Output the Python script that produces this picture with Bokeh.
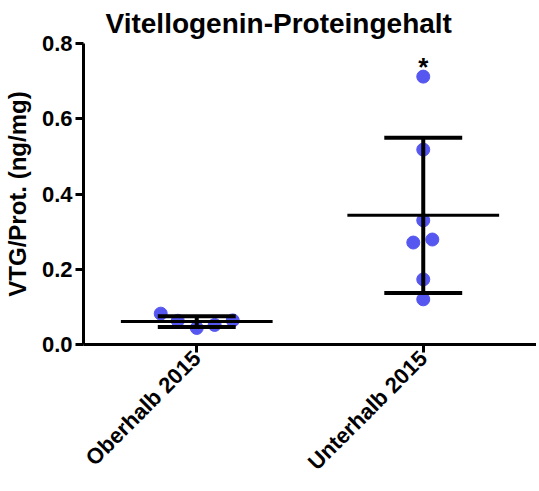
import numpy as np
from bokeh.plotting import figure
from bokeh.models import FixedTicker, Range1d
from bokeh.embed import file_html
from bokeh.resources import INLINE
from bokeh.core.properties import value

# ---- data ----
groups = ["Oberhalb 2015", "Unterhalb 2015"]
oberhalb = [0.082, 0.063, 0.044, 0.052, 0.064]
oberhalb_jitter = [-0.159, -0.084, 0.0, 0.079, 0.159]
unterhalb = [0.712, 0.518, 0.330, 0.271, 0.279, 0.173, 0.120]
unterhalb_jitter = [0.0, 0.0, 0.0, -0.044, 0.040, 0.0, 0.0]
significance = ["", "*"]
y_ticks = [0.0, 0.2, 0.4, 0.6, 0.8]
y_tick_labels = ["0.0", "0.2", "0.4", "0.6", "0.8"]

FONT = "Liberation Sans"
DOT = "#5656F0"

p = figure(frame_width=453, frame_height=301, output_backend="svg", toolbar_location=None,
           x_range=Range1d(0.5, 2.5), y_range=Range1d(0, 0.8),
           min_border_left=82, min_border_right=0, min_border_top=43,
           min_border_bottom=139)
p.outline_line_color = None
p.grid.visible = False
p.background_fill_color = "white"
p.border_fill_color = "white"

p.title.text = "Vitellogenin-Proteingehalt"
p.title.text_font = FONT
p.title.text_font_style = "bold"
p.title.text_font_size = "28px"
p.title.align = "left"
p.title.offset = 22
p.title.text_color = "black"

all_sets = [oberhalb, unterhalb]
all_jit = [oberhalb_jitter, unterhalb_jitter]

# points
for i, (vals, jit) in enumerate(zip(all_sets, all_jit)):
    xs = [i + 1 + j for j in jit]
    p.scatter(xs, vals, size=13, fill_color=DOT, line_color=DOT)

# mean +/- SD
for i, vals in enumerate(all_sets):
    xc = i + 1
    m = float(np.mean(vals))
    sd = float(np.std(vals, ddof=1))
    p.segment(x0=[xc - 0.335], y0=[m], x1=[xc + 0.335], y1=[m], line_color="black", line_width=3)
    p.segment(x0=[xc], y0=[m - sd], x1=[xc], y1=[m + sd], line_color="black", line_width=4)
    p.segment(x0=[xc - 0.172, xc - 0.172], y0=[m - sd, m + sd],
              x1=[xc + 0.172, xc + 0.172], y1=[m - sd, m + sd], line_color="black", line_width=4)

# significance marker
p.text(x=[2], y=[0.737], text=[significance[1]], text_align="center", text_baseline="alphabetic",
       text_font=value(FONT), text_font_style="bold", text_font_size="26px", text_color="black")

# axes
p.xaxis.ticker = FixedTicker(ticks=[1, 2])
p.xaxis.major_label_overrides = {1: groups[0], 2: groups[1]}
p.xaxis.major_label_orientation = np.pi / 4
p.yaxis.ticker = FixedTicker(ticks=y_ticks)
p.yaxis.major_label_overrides = {t: l for t, l in zip(y_ticks, y_tick_labels)}
p.yaxis.axis_label = "VTG/Prot. (ng/mg)"

for ax in (p.xaxis, p.yaxis):
    ax.axis_line_width = 3
    ax.axis_line_color = "black"
    ax.major_tick_line_width = 3
    ax.major_tick_line_color = "black"
    ax.major_tick_out = 8
    ax.major_tick_in = 0
    ax.minor_tick_line_color = None
    ax.major_label_text_font = FONT
    ax.major_label_text_font_style = "bold"
    ax.major_label_text_font_size = "22px"
    ax.major_label_text_color = "black"
    ax.major_label_standoff = 3
    ax.axis_label_text_font = FONT
    ax.axis_label_text_font_style = "bold"
    ax.axis_label_text_font_size = "24px"
    ax.axis_label_text_color = "black"
p.xaxis.major_label_standoff = 2
p.yaxis.axis_label_standoff = 8

open("out.html", "w").write(file_html(p, INLINE))
